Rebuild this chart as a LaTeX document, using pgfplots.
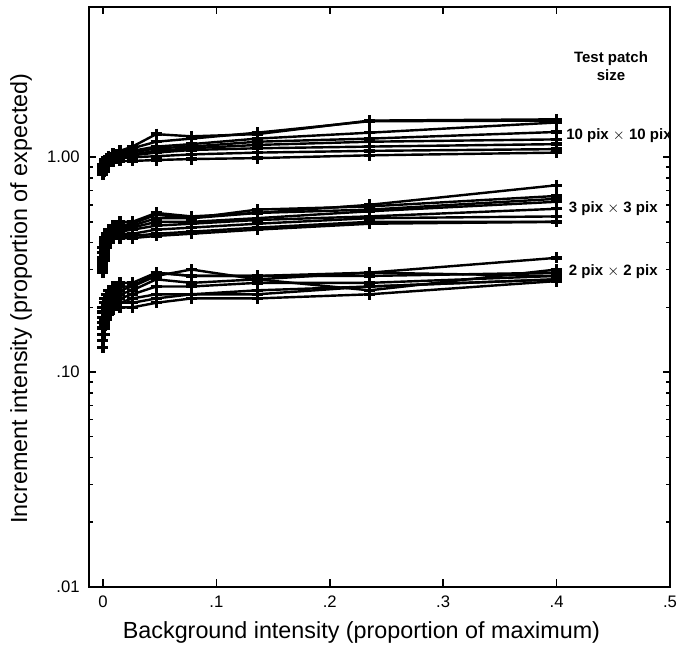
\documentclass[border=0pt]{standalone}
\usepackage{fontspec}
\setmainfont{Liberation Sans}
\usepackage{pgfplots}
\usepackage{pgfplotstable}
\pgfplotsset{compat=1.18}
\pgfplotsset{obs/.style={black, solid, line width=1.45pt, mark=+,
    mark size=3.3pt, mark options={solid, line width=2pt}}}

% one table per test patch size; columns = observers/conditions
\pgfplotstableread{
x      a    b    c    d    e    f    g    h
0      .92  .90  .88  .86  .85  .87  .84  .83
0.001  .95  .93  .91  .89  .88  .90  .87  .86
0.0017 .97  .96  .94  .92  .91  .92  .90  .89
0.003  .99  .98  .96  .95  .94  .94  .93  .92
0.005  1.01 1.00 .99  .97  .96  .96  .95  .94
0.0088 1.04 1.02 1.01 1.00 .98  .98  .97  .95
0.015  1.07 1.05 1.04 1.02 1.00 1.00 .99  .96
0.026  1.12 1.10 1.07 1.05 1.03 1.02 1.00 .96
0.047  1.28 1.18 1.12 1.10 1.07 1.05 1.01 .97
0.078  1.25 1.22 1.15 1.12 1.10 1.08 1.03 .98
0.136  1.28 1.30 1.22 1.18 1.14 1.10 1.05 .99
0.235  1.48 1.47 1.30 1.22 1.18 1.12 1.07 1.02
0.4    1.50 1.48 1.45 1.31 1.21 1.15 1.09 1.05
}\tenpix
\pgfplotstableread{
x      a    b    c    d    e    f    g    h
0      .38  .36  .34  .33  .31  .30  .32  .29
0.001  .40  .39  .37  .36  .35  .34  .35  .33
0.0017 .42  .41  .40  .39  .38  .37  .37  .36
0.003  .44  .43  .42  .41  .40  .39  .39  .38
0.005  .46  .45  .44  .43  .42  .41  .41  .40
0.0088 .48  .47  .46  .45  .44  .43  .42  .42
0.015  .50  .48  .47  .46  .45  .44  .43  .42
0.026  .50  .49  .48  .47  .46  .44  .43  .42
0.047  .55  .54  .52  .50  .48  .46  .44  .43
0.078  .53  .52  .52  .50  .49  .47  .45  .44
0.136  .55  .57  .55  .52  .51  .49  .47  .46
0.235  .60  .59  .57  .56  .53  .52  .50  .49
0.4    .74  .66  .64  .62  .575 .53  .50  .50
}\threepix
\pgfplotstableread{
x      a    b    c    d    e    f    g    h
0      .20  .19  .18  .17  .16  .15  .14  .13
0.001  .21  .20  .19  .18  .17  .165 .16  .15
0.0017 .22  .21  .20  .19  .18  .175 .17  .165
0.003  .23  .22  .21  .20  .19  .185 .18  .175
0.005  .24  .23  .22  .21  .20  .195 .19  .185
0.0088 .25  .24  .23  .22  .21  .205 .20  .195
0.015  .26  .25  .24  .23  .22  .21  .21  .20
0.026  .26  .25  .25  .24  .23  .22  .21  .20
0.047  .29  .28  .29  .27  .25  .23  .22  .21
0.078  .28  .30  .28  .26  .25  .23  .23  .22
0.136  .28  .27  .28  .27  .26  .24  .23  .22
0.235  .29  .24  .28  .29  .26  .25  .25  .23
0.4    .34  .30  .29  .28  .28  .27  .27  .265
}\twopix

\begin{document}
\begin{tikzpicture}
\begin{axis}[
  width=348.7pt, height=348pt,
  scale only axis,
  ymode=log,
  xmin=-0.0123, xmax=0.5,
  ymin=0.01, ymax=5,
  xtick={0,0.1,0.2,0.3,0.4,0.5},
  xticklabels={0,.1,.2,.3,.4,.5},
  ytick={0.01,0.1,1},
  yticklabels={.01,.10,1.00},
  tick align=inside,
  major tick length=4.5pt,
  minor tick length=2.5pt,
  every tick/.style={black, line width=0.9pt},
  axis line style={line width=1.2pt},
  /pgf/number format/assume math mode=true,
  tick label style={font=\fontsize{10}{12}\selectfont},
  yticklabel style={anchor=east, inner sep=0pt, xshift=-5.4pt},
  xticklabel style={anchor=north, inner sep=0pt, yshift=-5.4pt},
  label style={font=\fontsize{14}{16}\selectfont},
  xlabel={Background intensity (proportion of maximum)},
  ylabel={Increment intensity (proportion of expected)},
  xlabel style={at={(axis description cs:0.469,0)}, anchor=center, yshift=-27.6pt},
  ylabel style={at={(axis description cs:-0.117,0.497)}, anchor=center},
]
\pgfplotsinvokeforeach{a,b,c,d,e,f,g,h}{
  \addplot[obs] table[x=x, y=#1] {\tenpix};
  \addplot[obs] table[x=x, y=#1] {\threepix};
  \addplot[obs] table[x=x, y=#1] {\twopix};
}
\node[font=\bfseries\fontsize{9}{10.8}\selectfont, align=center]
  at (axis cs:0.448,2.64) {Test patch\\size};
\node[font=\bfseries\fontsize{9}{10}\selectfont] at (axis cs:0.455,1.265) {10 pix $\times$ 10 pix};
\node[font=\bfseries\fontsize{9}{10}\selectfont] at (axis cs:0.45,0.574) {3 pix $\times$ 3 pix};
\node[font=\bfseries\fontsize{9}{10}\selectfont] at (axis cs:0.45,0.293) {2 pix $\times$ 2 pix};
\end{axis}
\path (current axis.south west) ++(-53.4pt,-37.2pt);
\path (current axis.north east) ++(4.2pt,4.2pt);
\end{tikzpicture}
\end{document}
